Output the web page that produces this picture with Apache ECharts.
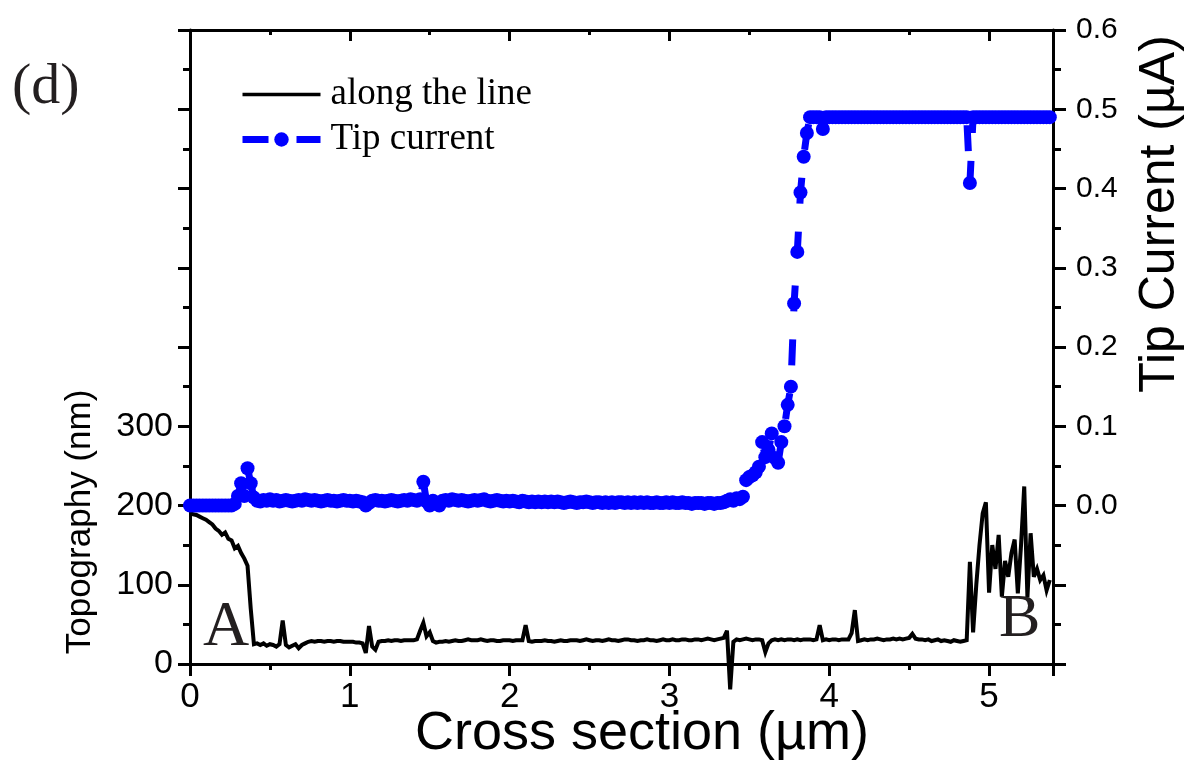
<!DOCTYPE html>
<html>
<head>
<meta charset="utf-8">
<script src="https://cdn.jsdelivr.net/npm/echarts@6/dist/echarts.min.js"></script>
<style>
  html, body { margin: 0; padding: 0; background: #fff; }
  #chart { width: 1191px; height: 770px; }
</style>
</head>
<body>
<div id="chart"></div>
<script>
// Line scan sampled every 0.02 µm from 0 to 5.38 µm.
const SCAN_STEP_UM = 0.02;

// Topography along the scan line (nm), ten samples per row.
const topographyNm = [
  190, 189, 188, 186, 184, 182, 179, 176, 171, 168,
  163, 166, 158, 156, 146, 149, 140, 133, 124, 70,
  25, 26, 24, 26, 23, 25, 24, 22, 25, 55,
  24, 21, 23, 25, 20, 24, 26, 28, 29, 28,
  29, 29, 28, 29, 29, 28, 29, 29, 28, 28,
  28, 28, 27, 27, 26, 14, 48, 22, 18, 28,
  29, 29, 30, 29, 30, 30, 29, 30, 30, 30,
  30, 31, 42, 52, 35, 40, 29, 27, 28, 28,
  29, 28, 29, 30, 29, 29, 30, 31, 30, 30,
  30, 31, 30, 29, 30, 30, 29, 29, 30, 30,
  30, 29, 30, 30, 30, 49, 29, 28, 29, 29,
  29, 30, 29, 29, 28, 29, 30, 29, 29, 30,
  30, 30, 29, 30, 31, 30, 29, 30, 30, 29,
  30, 31, 30, 30, 29, 30, 31, 31, 30, 30,
  29, 30, 30, 31, 30, 30, 29, 30, 31, 30,
  30, 31, 30, 30, 31, 31, 30, 30, 31, 31,
  30, 31, 32, 31, 30, 31, 32, 33, 42, -32,
  28, 31, 30, 31, 32, 31, 30, 31, 31, 30,
  15, 26, 30, 31, 30, 31, 30, 31, 31, 30,
  31, 30, 31, 31, 31, 30, 31, 49, 30, 31,
  30, 31, 31, 30, 31, 31, 31, 39, 68, 29,
  30, 31, 30, 31, 31, 32, 31, 30, 31, 31,
  32, 31, 32, 31, 32, 33, 38, 32, 31, 31,
  30, 31, 29, 30, 31, 29, 30, 29, 28, 30,
  29, 28, 29, 30, 129, 40, 100, 150, 190, 204,
  90, 150, 120, 163, 85, 130, 110, 140, 157, 89,
  150, 224, 84, 165, 110, 120, 106, 112, 93, 106
];

// Tip current at the same positions (µA).
const tipCurrentUA = [
  0, 0, 0, 0, 0, 0, 0, 0, 0, 0,
  0, 0, 0, 0, 0.002, 0.012, 0.028, 0.012, 0.047, 0.028,
  0.010, 0.006, 0.005, 0.007, 0.006, 0.008, 0.006, 0.007, 0.005, 0.006,
  0.007, 0.006, 0.005, 0.006, 0.007, 0.006, 0.008, 0.007, 0.006, 0.007,
  0.006, 0.005, 0.006, 0.007, 0.006, 0.006, 0.005, 0.006, 0.007, 0.006,
  0.006, 0.005, 0.006, 0.005, 0.004, 0.000, 0.003, 0.006, 0.007, 0.006,
  0.006, 0.005, 0.006, 0.007, 0.006, 0.005, 0.006, 0.007, 0.006, 0.008,
  0.007, 0.006, 0.008, 0.030, 0.005, 0.000, 0.006, 0.003, 0.000, 0.006,
  0.007, 0.006, 0.008, 0.007, 0.006, 0.007, 0.006, 0.005, 0.006, 0.007,
  0.006, 0.007, 0.008, 0.006, 0.005, 0.006, 0.007, 0.006, 0.005, 0.006,
  0.005, 0.006, 0.005, 0.004, 0.006, 0.005, 0.004, 0.005, 0.004, 0.005,
  0.004, 0.005, 0.004, 0.005, 0.004, 0.005, 0.004, 0.003, 0.004, 0.005,
  0.004, 0.003, 0.004, 0.004, 0.005, 0.004, 0.003, 0.004, 0.004, 0.003,
  0.004, 0.003, 0.004, 0.003, 0.004, 0.004, 0.003, 0.004, 0.003, 0.004,
  0.003, 0.004, 0.003, 0.004, 0.003, 0.003, 0.004, 0.003, 0.003, 0.004,
  0.003, 0.004, 0.003, 0.003, 0.004, 0.003, 0.003, 0.002, 0.003, 0.003,
  0.003, 0.002, 0.003, 0.003, 0.002, 0.003, 0.003, 0.004, 0.006, 0.008,
  0.006, 0.009, 0.008, 0.011, 0.032, 0.036, 0.038, 0.042, 0.049, 0.080,
  0.061, 0.070, 0.091, 0.060, 0.054, 0.080, 0.100, 0.127, 0.150, 0.255,
  0.320, 0.395, 0.440, 0.470, 0.490, 0.490, 0.490, 0.490, 0.475, 0.490,
  0.490, 0.490, 0.490, 0.490, 0.490, 0.490, 0.490, 0.490, 0.490, 0.490,
  0.490, 0.490, 0.490, 0.490, 0.490, 0.490, 0.490, 0.490, 0.490, 0.490,
  0.490, 0.490, 0.490, 0.490, 0.490, 0.490, 0.490, 0.490, 0.490, 0.490,
  0.490, 0.490, 0.490, 0.490, 0.490, 0.490, 0.490, 0.490, 0.490, 0.490,
  0.490, 0.490, 0.490, 0.490, 0.407, 0.490, 0.490, 0.490, 0.490, 0.490,
  0.490, 0.490, 0.490, 0.490, 0.490, 0.490, 0.490, 0.490, 0.490, 0.490,
  0.490, 0.490, 0.490, 0.490, 0.490, 0.490, 0.490, 0.490, 0.490, 0.490
];

const seriesNames = ['along the line', 'Tip current'];
const axisTitles = {
  x: 'Cross section (µm)',
  left: 'Topography (nm)',
  right: 'Tip Current (µA)'
};
const panelLabel = '(d)';
const endLabels = ['A', 'B'];

const positionsUm = topographyNm.map((_, i) => +(i * SCAN_STEP_UM).toFixed(2));
const topoPairs = positionsUm.map((x, i) => [x, topographyNm[i]]);
const currentPairs = positionsUm.map((x, i) => [x, tipCurrentUA[i]]);

const SANS = "'Liberation Sans', Arial, sans-serif";
const SERIF = "'Liberation Serif', 'Times New Roman', serif";
const INK = '#231f20';
const BLUE = '#0000ff';
const TOPO_WIDTH = 4;
const CURRENT_WIDTH = 7;
const CURRENT_DASH = [26, 28];

const chart = echarts.init(document.getElementById('chart'), null, { renderer: 'canvas' });

const axisLine = { show: true, onZero: false, lineStyle: { color: '#000', width: 3 } };

chart.setOption({
  animation: false,
  backgroundColor: '#fff',
  grid: { left: 190, right: 138, top: 30, bottom: 106, containLabel: false },
  legend: {
    orient: 'vertical',
    left: 234,
    top: 67,
    itemWidth: 78,
    itemHeight: 18,
    itemGap: 0,
    selectedMode: false,
    data: [
      {
        name: seriesNames[0],
        icon: 'path://M0,0 L78,0 L78,3.5 L0,3.5 Z',
        itemStyle: { color: '#000', borderWidth: 0 }
      },
      {
        name: seriesNames[1],
        lineStyle: { width: CURRENT_WIDTH, type: CURRENT_DASH, color: BLUE },
        itemStyle: { color: BLUE, borderWidth: 0 }
      }
    ],
    textStyle: { fontFamily: SERIF, fontSize: 37, color: '#000', lineHeight: 45, padding: [0, 0, 0, 5] }
  },
  xAxis: [
    {
      type: 'value', position: 'bottom', min: 0, max: 5.4, interval: 1,
      axisLine: axisLine,
      axisTick: { show: true, inside: false, length: 12, lineStyle: { width: 3, color: '#000' } },
      minorTick: { show: true, splitNumber: 2, length: 6, lineStyle: { width: 3, color: '#000' } },
      axisLabel: { show: true, margin: 16, fontFamily: SANS, fontSize: 35, color: '#000',
        showMaxLabel: false, formatter: v => String(Math.round(v)) },
      splitLine: { show: false }
    },
    {
      type: 'value', position: 'top', min: 0, max: 5.4, interval: 1,
      axisLine: axisLine,
      axisTick: { show: true, inside: true, length: 11, lineStyle: { width: 3, color: '#000' } },
      minorTick: { show: true, splitNumber: 2, length: 5, lineStyle: { width: 3, color: '#000' } },
      axisLabel: { show: false },
      splitLine: { show: false }
    }
  ],
  yAxis: [
    {
      type: 'value', position: 'left', min: 0, max: 800, interval: 100,
      axisLine: axisLine,
      axisTick: { show: true, inside: false, length: 12, lineStyle: { width: 3, color: '#000' } },
      minorTick: { show: true, splitNumber: 2, length: 7, lineStyle: { width: 3, color: '#000' } },
      axisLabel: { show: true, margin: 17, fontFamily: SANS, fontSize: 34, color: '#000',
        formatter: v => (v <= 300 ? String(v) : '') },
      splitLine: { show: false }
    },
    {
      type: 'value', position: 'right', min: -0.2, max: 0.6, interval: 0.1,
      axisLine: axisLine,
      axisTick: { show: true, inside: false, length: 13, lineStyle: { width: 3, color: '#000' } },
      minorTick: { show: true, splitNumber: 2, length: 8, lineStyle: { width: 3, color: '#000' } },
      axisLabel: { show: true, margin: 23, fontFamily: SANS, fontSize: 30, color: '#000',
        formatter: v => (v > -1e-6 ? Math.abs(v).toFixed(1) : '') },
      splitLine: { show: false }
    }
  ],
  series: [
    {
      name: seriesNames[0],
      type: 'line',
      xAxisIndex: 0,
      yAxisIndex: 0,
      data: topoPairs,
      symbol: 'none',
      clip: false,
      lineStyle: { color: '#000', width: TOPO_WIDTH, join: 'miter', miterLimit: 4 },
      itemStyle: { color: '#000' },
      z: 3
    },
    {
      name: seriesNames[1],
      type: 'line',
      xAxisIndex: 0,
      yAxisIndex: 1,
      data: currentPairs,
      symbol: 'circle',
      symbolSize: 14,
      showAllSymbol: true,
      clip: true,
      lineStyle: { color: BLUE, width: CURRENT_WIDTH, type: CURRENT_DASH },
      itemStyle: { color: BLUE },
      z: 4
    }
  ],
  graphic: [
    {
      type: 'text', x: 12, y: 88,
      style: { text: panelLabel, font: '58px ' + SERIF, fill: INK, align: 'left', verticalAlign: 'middle' }
    },
    {
      type: 'text', x: 203, y: 628, z: 10,
      style: { text: endLabels[0], font: '64px ' + SERIF, fill: INK, align: 'left', verticalAlign: 'middle' }
    },
    {
      type: 'text', x: 999, y: 620, z: 10,
      style: { text: endLabels[1], font: '62px ' + SERIF, fill: INK, align: 'left', verticalAlign: 'middle' }
    },
    {
      type: 'text', x: 642, y: 734,
      style: { text: axisTitles.x, font: '54px ' + SANS, fill: '#000', align: 'center', verticalAlign: 'middle' }
    },
    {
      type: 'text', x: 80, y: 522, rotation: Math.PI / 2,
      style: { text: axisTitles.left, font: '35px ' + SANS, fill: '#000', align: 'center', verticalAlign: 'middle' }
    },
    {
      type: 'text', x: 1160, y: 214, rotation: Math.PI / 2,
      style: { text: axisTitles.right, font: '50px ' + SANS, fill: '#000', align: 'center', verticalAlign: 'middle' }
    }
  ]
});
</script>
</body>
</html>
